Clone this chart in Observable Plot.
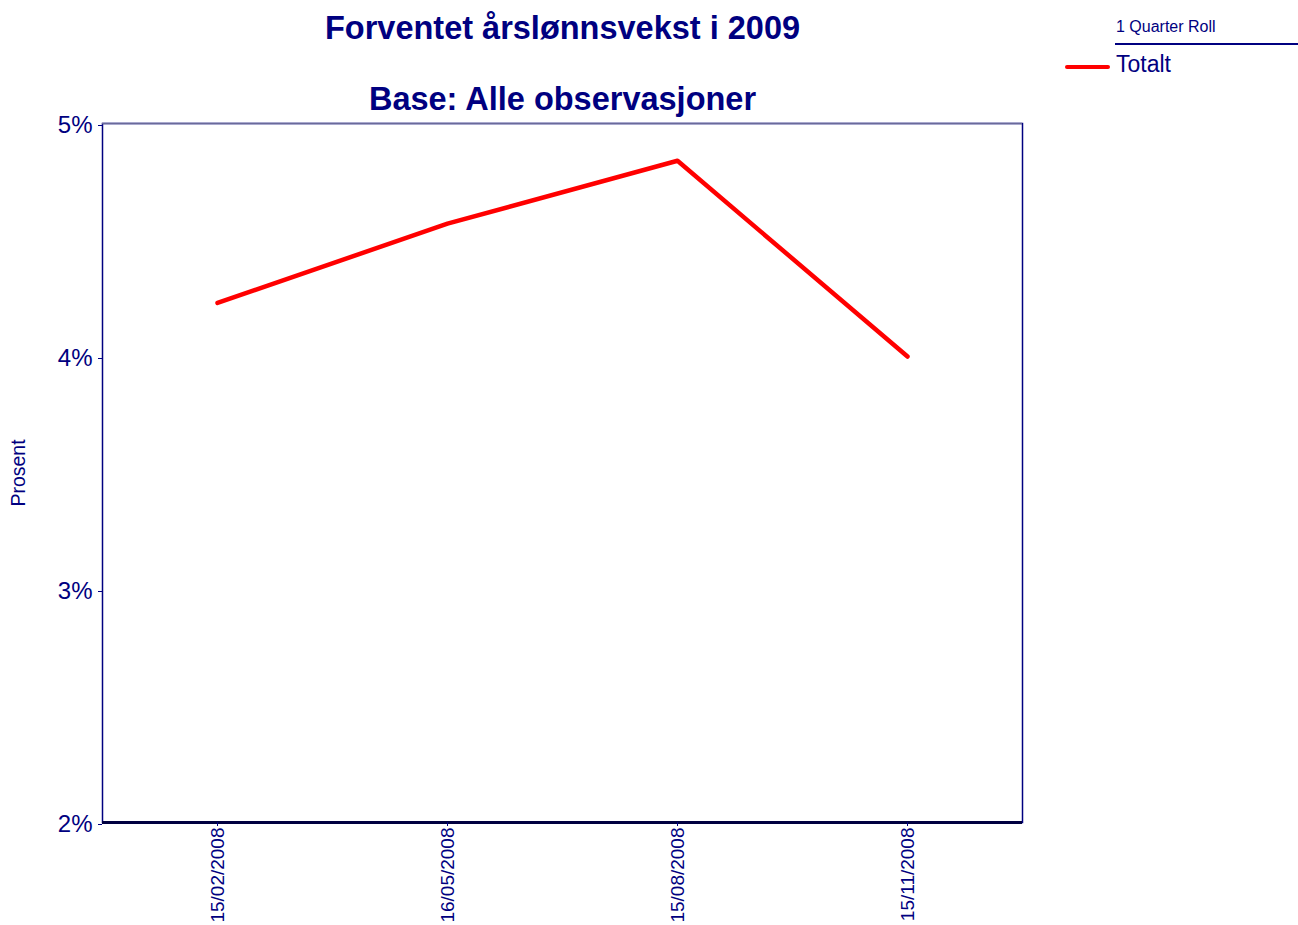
<!DOCTYPE html>
<html>
<head>
<meta charset="utf-8">
<script src="https://cdn.jsdelivr.net/npm/d3@7"></script>
<script src="https://cdn.jsdelivr.net/npm/@observablehq/plot@0.6"></script>
<style>
  html, body { margin: 0; padding: 0; background: #fff; }
  #wrap { position: relative; width: 1298px; height: 925px; overflow: hidden; font-family: "Liberation Sans", Arial, sans-serif; color: #000080; }
  #wrap svg { position: absolute; left: 0; top: 0; }
  .abs { position: absolute; white-space: nowrap; }
</style>
</head>
<body>
<div id="wrap">
  <div class="abs" id="title" style="left:0; width:1125px; text-align:center; top:10px; font-size:32.5px; font-weight:bold;">Forventet årslønnsvekst i 2009</div>
  <div class="abs" id="subtitle" style="left:0; width:1125px; text-align:center; top:81px; font-size:32.5px; font-weight:bold;">Base: Alle observasjoner</div>
  <div class="abs" style="left:1116px; top:18px; font-size:16px;">1 Quarter Roll</div>
  <div class="abs" style="left:1115px; top:43px; width:183px; height:0; border-top:2px solid #000080;"></div>
  <div class="abs" style="left:1065px; top:65px; width:45px; height:0; border-top:4px solid #ff0000; border-radius:2px;"></div>
  <div class="abs" style="left:1116px; top:51px; font-size:23px;">Totalt</div>
</div>
<script>
const dates = ["15/02/2008", "16/05/2008", "15/08/2008", "15/11/2008"];
const values = [4.23, 4.57, 4.84, 4.00];
const yTicks = [2, 3, 4, 5];
const seriesName = "Totalt";
const yLabel = "Prosent";

const data = dates.map((d, i) => ({date: d, value: values[i], series: seriesName}));
const navy = "#000080";

const chart = Plot.plot({
  width: 1298,
  height: 925,
  marginLeft: 102,
  marginRight: 276,
  marginTop: 123,
  marginBottom: 103,
  style: {fontFamily: "'Liberation Sans', Arial, sans-serif", color: navy, background: "transparent", overflow: "visible"},
  x: {type: "point", domain: dates, padding: 0.5},
  y: {domain: [2, 5]},
  marks: [
    Plot.frame({stroke: navy, strokeWidth: 1.5}),
    Plot.ruleY([5], {stroke: "#6a6a9a", strokeWidth: 1.5}),
    Plot.ruleY([2], {stroke: "#000040", strokeWidth: 3}),
    Plot.axisY(yTicks, {tickSize: 4, tickPadding: 6, fontSize: 24, dy: 2, stroke: navy, fill: navy, tickFormat: d => d + "%", label: null}),
    Plot.axisX({tickSize: 4, tickPadding: 1, fontSize: 19, tickRotate: -90, stroke: navy, fill: navy, label: null}),
    Plot.text([yLabel], {frameAnchor: "left", textAnchor: "middle", dx: -84, rotate: -90, text: d => d, fontSize: 19.5, fill: navy}),
    Plot.line(data, {x: "date", y: "value", stroke: "#ff0000", strokeWidth: 4.5, strokeLinecap: "round", strokeLinejoin: "round"})
  ]
});
document.getElementById("wrap").prepend(chart);
</script>
</body>
</html>
